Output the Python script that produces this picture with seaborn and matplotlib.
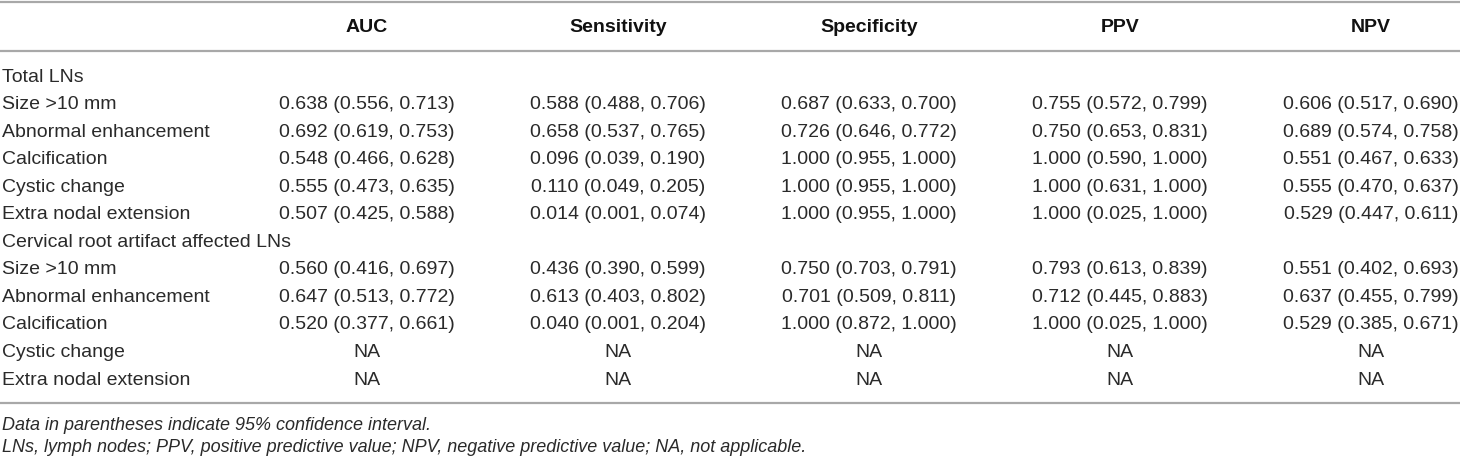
import matplotlib
matplotlib.use("Agg")
import matplotlib.pyplot as plt
from matplotlib.colors import ListedColormap
import seaborn as sns
import numpy as np

# table content
columns = ["AUC", "Sensitivity", "Specificity", "PPV", "NPV"]

row_labels = [
    "Total LNs",
    "Size >10 mm",
    "Abnormal enhancement",
    "Calcification",
    "Cystic change",
    "Extra nodal extension",
    "Cervical root artifact affected LNs",
    "Size >10 mm",
    "Abnormal enhancement",
    "Calcification",
    "Cystic change",
    "Extra nodal extension",
]

auc = ["", "0.638 (0.556, 0.713)", "0.692 (0.619, 0.753)", "0.548 (0.466, 0.628)",
       "0.555 (0.473, 0.635)", "0.507 (0.425, 0.588)",
       "", "0.560 (0.416, 0.697)", "0.647 (0.513, 0.772)", "0.520 (0.377, 0.661)", "NA", "NA"]
sensitivity = ["", "0.588 (0.488, 0.706)", "0.658 (0.537, 0.765)", "0.096 (0.039, 0.190)",
               "0.110 (0.049, 0.205)", "0.014 (0.001, 0.074)",
               "", "0.436 (0.390, 0.599)", "0.613 (0.403, 0.802)", "0.040 (0.001, 0.204)", "NA", "NA"]
specificity = ["", "0.687 (0.633, 0.700)", "0.726 (0.646, 0.772)", "1.000 (0.955, 1.000)",
               "1.000 (0.955, 1.000)", "1.000 (0.955, 1.000)",
               "", "0.750 (0.703, 0.791)", "0.701 (0.509, 0.811)", "1.000 (0.872, 1.000)", "NA", "NA"]
ppv = ["", "0.755 (0.572, 0.799)", "0.750 (0.653, 0.831)", "1.000 (0.590, 1.000)",
       "1.000 (0.631, 1.000)", "1.000 (0.025, 1.000)",
       "", "0.793 (0.613, 0.839)", "0.712 (0.445, 0.883)", "1.000 (0.025, 1.000)", "NA", "NA"]
npv = ["", "0.606 (0.517, 0.690)", "0.689 (0.574, 0.758)", "0.551 (0.467, 0.633)",
       "0.555 (0.470, 0.637)", "0.529 (0.447, 0.611)",
       "", "0.551 (0.402, 0.693)", "0.637 (0.455, 0.799)", "0.529 (0.385, 0.671)", "NA", "NA"]

footnotes = [
    "Data in parentheses indicate 95% confidence interval.",
    "LNs, lymph nodes; PPV, positive predictive value; NPV, negative predictive value; NA, not applicable.",
]

sns.set_theme(style="white")
plt.rcParams["font.family"] = ["Liberation Sans", "DejaVu Sans"]

W, H = 1460, 459
fig = plt.figure(figsize=(W / 100, H / 100), dpi=100)
fig.patch.set_facecolor("white")

# layout (pixels)
col_x0, col_step = 367, 251
row_y0, row_step = 77, 27.55
n_rows = len(row_labels)
n_cols = len(columns)

# value grid drawn as a blank heatmap with text annotations
cells = np.array([auc, sensitivity, specificity, ppv, npv]).T
left = col_x0 - col_step / 2
top = row_y0 - row_step / 2
hax = fig.add_axes([left / W, 1 - (top + n_rows * row_step) / H,
                    n_cols * col_step / W, n_rows * row_step / H])
hax.set_zorder(1)
sns.heatmap(np.zeros(cells.shape), ax=hax, cmap=ListedColormap(["white"]),
            cbar=False, annot=cells, fmt="", xticklabels=False, yticklabels=False,
            annot_kws={"fontsize": 14, "color": "#2a2a2a"})
hax.axis("off")

# overlay axes for rules, labels and headers
ax = fig.add_axes([0, 0, 1, 1])
ax.set_zorder(2)
ax.patch.set_visible(False)
ax.set_xlim(0, W)
ax.set_ylim(H, 0)
ax.axis("off")

rule = dict(color="#a8a8a8", linewidth=1.6)
bottom_rule = row_y0 + (n_rows - 1) * row_step + 23
ax.axhline(1.5, **rule)
ax.axhline(51, **rule)
ax.axhline(bottom_rule, **rule)

for j, name in enumerate(columns):
    ax.text(col_x0 + j * col_step, 28, name, ha="center", va="center",
            fontsize=14, fontweight="bold", color="#111111")

for i, lab in enumerate(row_labels):
    ax.text(2, row_y0 + i * row_step, lab, ha="left", va="center",
            fontsize=14, color="#2a2a2a")

for k, note in enumerate(footnotes):
    ax.text(2, bottom_rule + 22 + k * 22, note, ha="left", va="center",
            fontsize=13, style="italic", color="#2a2a2a")

fig.savefig("out.png", dpi=100, facecolor="white")
